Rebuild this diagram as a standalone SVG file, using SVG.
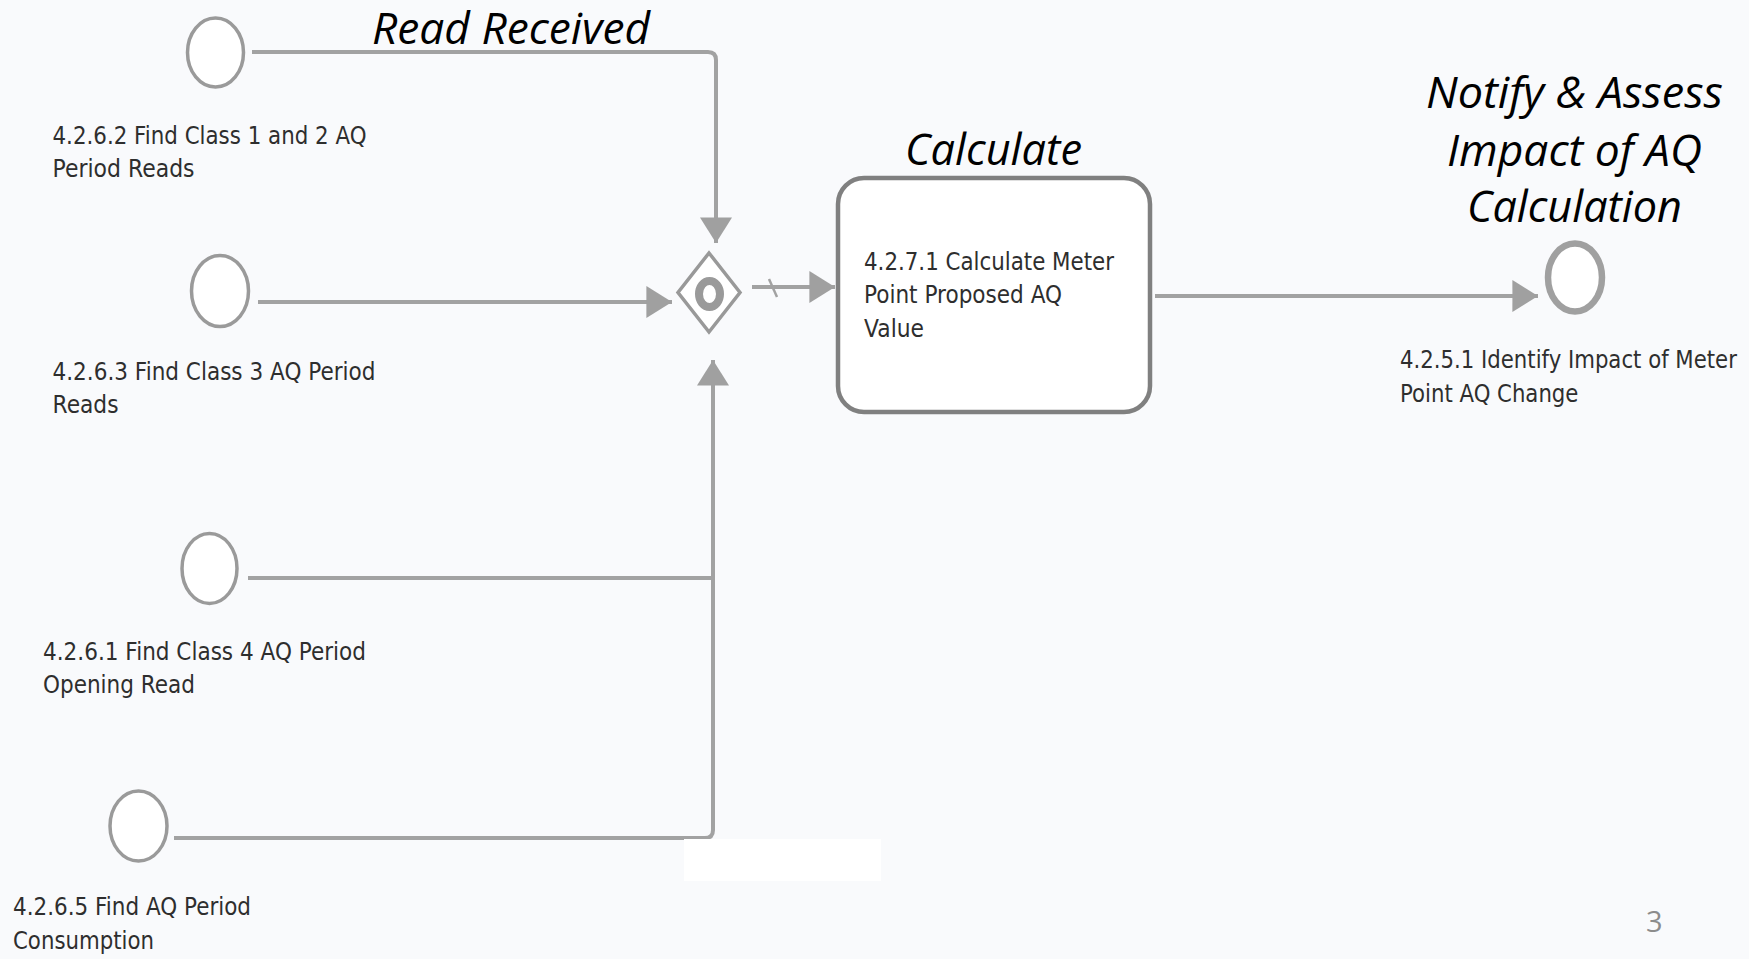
<svg xmlns="http://www.w3.org/2000/svg" width="1749" height="959" viewBox="0 0 1749 959">
<defs>
<style>
.lbl{font-family:"DejaVu Sans","Liberation Sans",sans-serif;font-size:24px;fill:#2e2e2e}
.ttl{font-family:"Open Sans","Liberation Sans",sans-serif;font-style:italic;font-size:44px;fill:#000}
.ev{fill:#fff;stroke:#9a9a9a;stroke-width:3.5}
.flow{fill:none;stroke:#a2a2a2;stroke-width:4}
</style>
<marker id="arr" markerUnits="userSpaceOnUse" markerWidth="26" markerHeight="32" viewBox="0 0 24 30" refX="24" refY="15" orient="auto">
<path d="M0,0 L24,15 L0,30 z" fill="#a0a0a0"/>
</marker>
</defs>
<rect x="0" y="0" width="1749" height="959" fill="#f9fafc"/>

<g id="titles">
<text class="ttl" x="372" y="44" font-size="42" textLength="278" lengthAdjust="spacingAndGlyphs">Read Received</text>
<text class="ttl" x="905" y="165" textLength="177" lengthAdjust="spacingAndGlyphs">Calculate</text>
<text class="ttl" x="1426" y="108" textLength="297" lengthAdjust="spacingAndGlyphs">Notify &amp; Assess</text>
<text class="ttl" x="1447" y="166" textLength="255" lengthAdjust="spacingAndGlyphs">Impact of AQ</text>
<text class="ttl" x="1467" y="222" textLength="215" lengthAdjust="spacingAndGlyphs">Calculation</text>
</g>

<g id="connectors">
<path class="flow" d="M252,52 H708 Q716,52 716,60 V243" marker-end="url(#arr)"/>
<path class="flow" d="M258,302 H672" marker-end="url(#arr)"/>
<path class="flow" d="M248,578 H711"/>
<path class="flow" d="M174,838 H705 Q713,838 713,830 V360" marker-end="url(#arr)"/>
<path class="flow" d="M752,287 H835" marker-end="url(#arr)"/>
<path d="M769,279 L777,297" stroke="#a2a2a2" stroke-width="2.5" fill="none"/>
<path class="flow" d="M1155,296 H1538" marker-end="url(#arr)"/>
</g>

<rect x="684" y="839" width="197" height="42" fill="#ffffff"/>

<g id="start-4262">
<ellipse class="ev" cx="215.5" cy="52.5" rx="28" ry="34.5"/>
<text class="lbl" x="52.5" y="144" textLength="314" lengthAdjust="spacingAndGlyphs">4.2.6.2 Find Class 1 and 2 AQ</text>
<text class="lbl" x="52.5" y="177" textLength="142" lengthAdjust="spacingAndGlyphs">Period Reads</text>
</g>

<g id="start-4263">
<ellipse class="ev" cx="220" cy="291" rx="28.5" ry="35.5"/>
<text class="lbl" x="52.5" y="380" textLength="323" lengthAdjust="spacingAndGlyphs">4.2.6.3 Find Class 3 AQ Period</text>
<text class="lbl" x="52.5" y="413" textLength="66" lengthAdjust="spacingAndGlyphs">Reads</text>
</g>

<g id="start-4261">
<ellipse class="ev" cx="209.5" cy="568.5" rx="27.5" ry="35"/>
<text class="lbl" x="43" y="660" textLength="323" lengthAdjust="spacingAndGlyphs">4.2.6.1 Find Class 4 AQ Period</text>
<text class="lbl" x="43" y="693" textLength="152" lengthAdjust="spacingAndGlyphs">Opening Read</text>
</g>

<g id="start-4265">
<ellipse class="ev" cx="138.5" cy="826" rx="28.5" ry="35"/>
<text class="lbl" x="13" y="915" textLength="238" lengthAdjust="spacingAndGlyphs">4.2.6.5 Find AQ Period</text>
<text class="lbl" x="13" y="949" textLength="141" lengthAdjust="spacingAndGlyphs">Consumption</text>
</g>

<g id="gateway">
<path d="M709,253 L740,292.5 L709,332 L678,292.5 Z" fill="#fff" stroke="#999" stroke-width="3.5"/>
<ellipse cx="709.5" cy="294" rx="10.5" ry="13" fill="none" stroke="#9a9a9a" stroke-width="8"/>
</g>

<g id="task-4271">
<rect x="838" y="178" width="312" height="234" rx="26" ry="26" fill="#fff" stroke="#808080" stroke-width="4.5"/>
<text class="lbl" x="864" y="270" textLength="250" lengthAdjust="spacingAndGlyphs">4.2.7.1 Calculate Meter</text>
<text class="lbl" x="864" y="303" textLength="198" lengthAdjust="spacingAndGlyphs">Point Proposed AQ</text>
<text class="lbl" x="864" y="337" textLength="60" lengthAdjust="spacingAndGlyphs">Value</text>
</g>

<g id="end-4251">
<ellipse cx="1575" cy="277.5" rx="27" ry="34" fill="#fff" stroke="#a0a0a0" stroke-width="6.5"/>
<g transform="translate(1400 0) scale(0.885 1)">
<text class="lbl" x="0" y="368">4.2.5.1 Identify Impact of Meter</text>
<text class="lbl" x="0" y="402">Point AQ Change</text>
</g>
</g>

<text x="1646" y="932" font-family="Open Sans, Liberation Sans, sans-serif" font-size="29" fill="#8c8c8c">3</text>
</svg>
